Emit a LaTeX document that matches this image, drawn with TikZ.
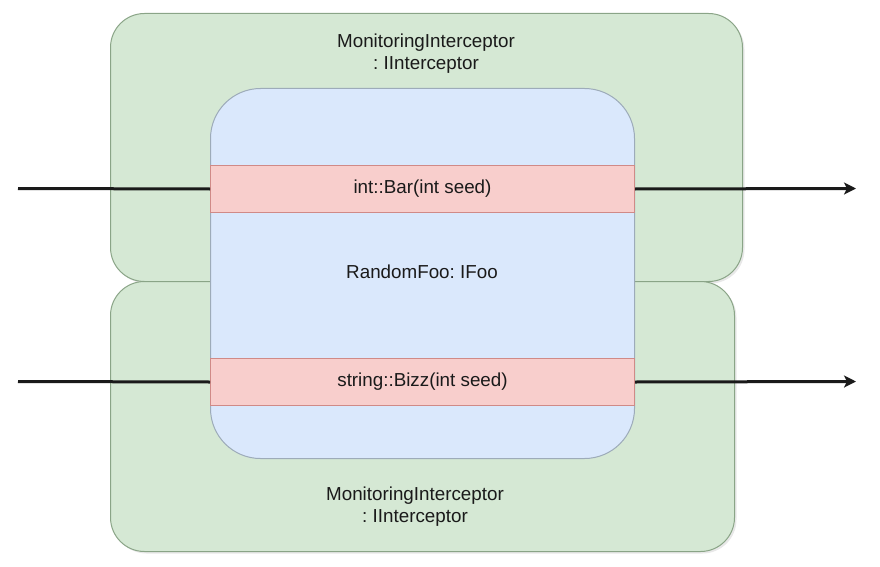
\documentclass[tikz,border=0pt]{standalone}
\usepackage{fontspec}
\setmainfont{Liberation Sans}
\usetikzlibrary{arrows.meta,shadows}
\definecolor{greenfill}{HTML}{D5E8D4}
\definecolor{greenline}{HTML}{8AA487}
\definecolor{bluefill}{HTML}{DAE8FC}
\definecolor{blueline}{HTML}{9DABB9}
\definecolor{pinkfill}{HTML}{F8CECC}
\definecolor{pinkline}{HTML}{D08A87}
\definecolor{arrowcol}{HTML}{1A1A1A}
\definecolor{txtcol}{HTML}{1A1A1A}
\frenchspacing
\begin{document}
\begin{tikzpicture}[x=1pt,y=-1pt,
  box/.style={rectangle, inner sep=0pt, anchor=north west},
  greenbox/.style={box, fill=greenfill, draw=greenline, line width=1pt, rounded corners=34pt,
    drop shadow={shadow xshift=2pt, shadow yshift=-2pt, opacity=0.18, fill=gray}},
  bluebox/.style={box, fill=bluefill, draw=blueline, line width=1pt, rounded corners=50pt},
  pinkbox/.style={box, fill=pinkfill, draw=pinkline, line width=1pt, minimum width=424pt,
    minimum height=47pt, text=txtcol, font=\fontsize{18.8}{22}\selectfont\frenchspacing},
  lbl/.style={align=center, text=txtcol, inner sep=0pt, font=\fontsize{18.8}{22}\selectfont\frenchspacing},
  conn/.style={draw=arrowcol, line width=3pt},
  tip/.style={-{Stealth[length=12pt,width=12pt,inset=3pt]}}
]
\useasboundingbox (0,0) rectangle (880,567);
\node[greenbox, minimum width=632pt, minimum height=268pt] (topgreen) at (110,13) {};
\node[greenbox, minimum width=624pt, minimum height=270pt] (botgreen) at (110,281) {};
\node[bluebox, minimum width=424pt, minimum height=370pt] (foo) at (210,88) {};
\node[pinkbox] (bar) at (210,165) {int::Bar(int seed)};
\node[pinkbox] (bizz) at (210,358) {string::Bizz(int seed)};
\node[lbl] (toplbl) at (426,54) {MonitoringInterceptor\\: IInterceptor};
\node[lbl] (botlbl) at (415,506.5) {MonitoringInterceptor\\: IInterceptor};
\node[lbl] (foolbl) at (422,272) {RandomFoo: IFoo};
\coordinate (inA) at (18,188.5);
\coordinate (outA) at (856,188.5);
\coordinate (inB) at (18,381.5);
\coordinate (outB) at (856,381.5);
\draw[conn] (inA) -- (bar.west);
\draw[conn, tip] (bar.east) -- (outA);
\draw[conn] (inB) -- (bizz.west);
\draw[conn, tip] (bizz.east) -- (outB);
\end{tikzpicture}
\end{document}
